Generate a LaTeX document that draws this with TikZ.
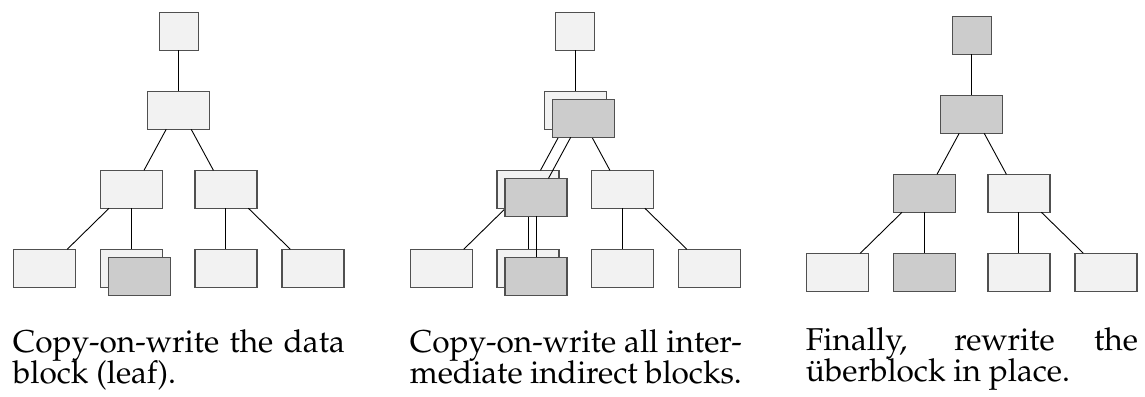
\documentclass[tikz,border=0pt]{standalone}
\usepackage[T1]{fontenc}
\usepackage{mathpazo}
\usepackage{tikz}
\usetikzlibrary{positioning}
\definecolor{oldblk}{RGB}{242,242,242}
\definecolor{newblk}{RGB}{204,204,204}
\definecolor{edge}{RGB}{80,80,80}
\newcommand\notefont{\fontsize{15.8}{15.4}\selectfont\setlength\lineskiplimit{-20pt}}

\begin{document}
\begin{tikzpicture}[x=0.5pt,y=-0.5pt,node distance=20.5pt,
  blk/.style={rectangle,draw=edge,line width=0.6pt,inner sep=0pt,outer sep=0pt,minimum width=31pt,minimum height=19pt},
  ub/.style={blk,minimum width=19.4pt},
  link/.style={draw=black,line width=0.45pt},
  stepnote/.style={anchor=north west,inner sep=0pt,align=justify,text width=166pt,font=\notefont}]
\useasboundingbox (0,0) rectangle (1145,396);
% the three trees, fill of uberblock / root / left indirect / second leaf
\foreach \t/\dx/\dy/\fa/\fb/\fc/\fd in {a/0/0/oldblk/oldblk/oldblk/oldblk,
    b/396.5/0/oldblk/oldblk/oldblk/oldblk,
    c/793/4/newblk/newblk/newblk/newblk}{
  \node[ub,fill=\fa] (\t-ub) at (178.7+\dx,31.3+\dy) {};
  \node[blk,fill=\fb,below=of \t-ub] (\t-mid) {};
  \node[blk,fill=\fc,below=of \t-mid,xshift=-23.6pt] (\t-l) {};
  \node[blk,fill=oldblk,below=of \t-mid,xshift=23.6pt] (\t-r) {};
  \node[blk,fill=oldblk,below=of \t-l,xshift=-43.4pt] (\t-ll) {};
  \node[blk,fill=\fd,below=of \t-l] (\t-lr) {};
  \node[blk,fill=oldblk,below=of \t-r] (\t-rl) {};
  \node[blk,fill=oldblk,below=of \t-r,xshift=43.5pt] (\t-rr) {};
  \draw[link] (\t-ub) -- (\t-mid);
  \draw[link] ([xshift=-6.25pt]\t-mid.south) -- ([xshift=6.25pt]\t-l.north);
  \draw[link] ([xshift=6.25pt]\t-mid.south) -- ([xshift=-6.25pt]\t-r.north);
  \draw[link] ([xshift=-11.25pt]\t-l.south) -- ([xshift=11.25pt]\t-ll.north);
  \draw[link] (\t-l) -- (\t-lr);
  \draw[link] (\t-r) -- (\t-rl);
  \draw[link] ([xshift=11.25pt]\t-r.south) -- ([xshift=-11.25pt]\t-rr.north);
}

% copied leaf
\node[blk,fill=newblk] (a-lr-cow) at ([shift={(8,8)}]a-lr.center) {};

% copied path up to the root
\node[blk,fill=newblk] (b-mid-cow) at ([shift={(8,8)}]b-mid.center) {};
\node[blk,fill=newblk] (b-l-cow) at ([shift={(8,8)}]b-l.center) {};
\node[blk,fill=newblk] (b-lr-cow) at ([shift={(8,8)}]b-lr.center) {};
\draw[link] ([xshift=-6.25pt]b-mid-cow.south) -- ([xshift=6.25pt]b-l-cow.north);
\draw[link] (b-l-cow) -- (b-lr-cow);

\node[stepnote] (note-a) at (12.5,329) {Copy-on-write the data\linebreak block (leaf).};
\node[stepnote] (note-b) at (409.5,329) {Copy-on-write all inter-\linebreak mediate indirect blocks.};
\node[stepnote] (note-c) at (805.5,327.5) {Finally, rewrite the\linebreak \"uberblock in place.};
\end{tikzpicture}
\end{document}
